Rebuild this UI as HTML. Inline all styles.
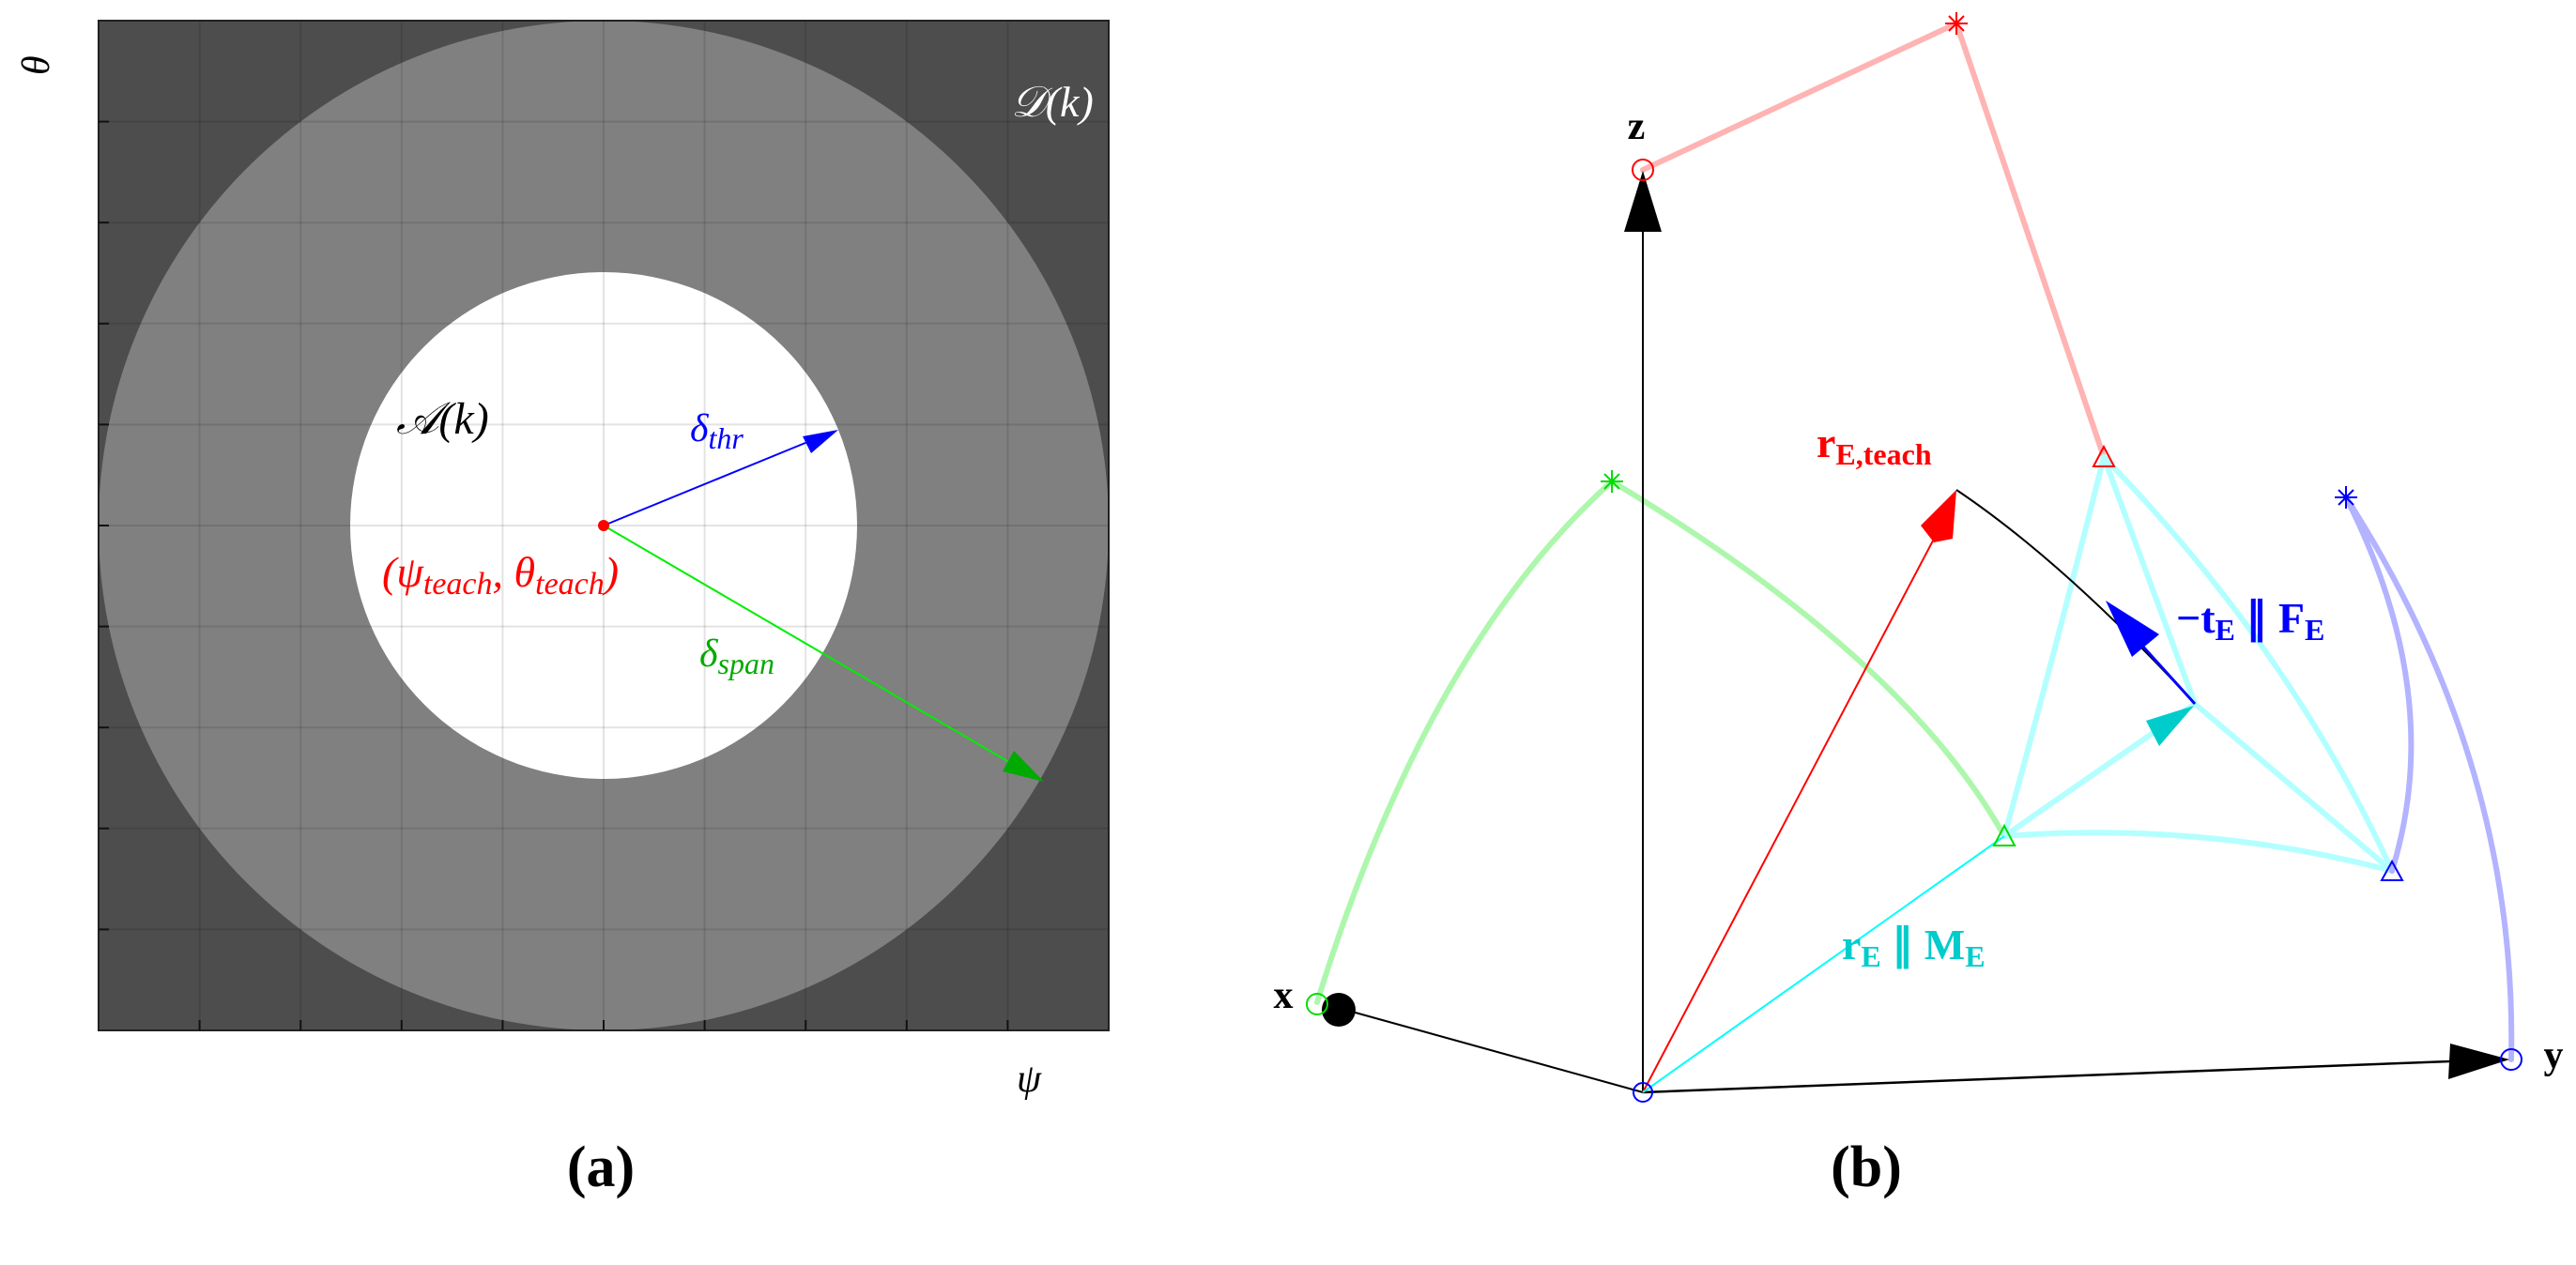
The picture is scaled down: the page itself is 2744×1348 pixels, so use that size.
<!DOCTYPE html>
<html><head><meta charset="utf-8"><style>
html,body{margin:0;padding:0;background:#fff;}
svg{display:block;}
text{font-family:"Liberation Serif",serif;}
</style></head><body>
<svg width="2744" height="1348" viewBox="0 0 2744 1348" xmlns="http://www.w3.org/2000/svg">
<defs><clipPath id="pc"><rect x="105" y="22" width="1076" height="1076"/></clipPath></defs>
<!-- panel a -->
<rect x="105" y="22" width="1076" height="1076" fill="#4d4d4d"/>
<g clip-path="url(#pc)">
<circle cx="643" cy="560" r="538" fill="#808080"/>
<circle cx="643" cy="560" r="270" fill="#ffffff"/>
<g stroke="#000" stroke-opacity="0.11" stroke-width="2">
<line x1="212.6" y1="22" x2="212.6" y2="1098"/><line x1="320.2" y1="22" x2="320.2" y2="1098"/>
<line x1="427.8" y1="22" x2="427.8" y2="1098"/><line x1="535.4" y1="22" x2="535.4" y2="1098"/>
<line x1="643" y1="22" x2="643" y2="1098"/><line x1="750.6" y1="22" x2="750.6" y2="1098"/>
<line x1="858.2" y1="22" x2="858.2" y2="1098"/><line x1="965.8" y1="22" x2="965.8" y2="1098"/>
<line x1="1073.4" y1="22" x2="1073.4" y2="1098"/>
<line y1="129.6" x1="105" y2="129.6" x2="1181"/><line y1="237.2" x1="105" y2="237.2" x2="1181"/>
<line y1="344.8" x1="105" y2="344.8" x2="1181"/><line y1="452.4" x1="105" y2="452.4" x2="1181"/>
<line y1="560" x1="105" y2="560" x2="1181"/><line y1="667.6" x1="105" y2="667.6" x2="1181"/>
<line y1="775.2" x1="105" y2="775.2" x2="1181"/><line y1="882.8" x1="105" y2="882.8" x2="1181"/>
<line y1="990.4" x1="105" y2="990.4" x2="1181"/>
</g>
</g>
<rect x="105" y="22" width="1076" height="1076" fill="none" stroke="#222" stroke-width="2"/>
<g stroke="#111" stroke-width="2">
<line x1="212.6" y1="1098" x2="212.6" y2="1087"/><line x1="320.2" y1="1098" x2="320.2" y2="1087"/><line x1="427.8" y1="1098" x2="427.8" y2="1087"/><line x1="535.4" y1="1098" x2="535.4" y2="1087"/><line x1="643" y1="1098" x2="643" y2="1087"/><line x1="750.6" y1="1098" x2="750.6" y2="1087"/><line x1="858.2" y1="1098" x2="858.2" y2="1087"/><line x1="965.8" y1="1098" x2="965.8" y2="1087"/><line x1="1073.4" y1="1098" x2="1073.4" y2="1087"/>
<line x1="105" y1="129.6" x2="116" y2="129.6"/><line x1="105" y1="237.2" x2="116" y2="237.2"/><line x1="105" y1="344.8" x2="116" y2="344.8"/><line x1="105" y1="452.4" x2="116" y2="452.4"/><line x1="105" y1="560" x2="116" y2="560"/><line x1="105" y1="667.6" x2="116" y2="667.6"/><line x1="105" y1="775.2" x2="116" y2="775.2"/><line x1="105" y1="882.8" x2="116" y2="882.8"/><line x1="105" y1="990.4" x2="116" y2="990.4"/>
</g>
<line x1="643" y1="560" x2="870" y2="467" stroke="#0000ff" stroke-width="2"/>
<polygon points="893,458 855,465 864,483" fill="#0000ff"/>
<line x1="643" y1="560" x2="1085" y2="818" stroke="#00ee00" stroke-width="2"/>
<polygon points="1112,833 1068,822 1080,800" fill="#00aa00"/>
<circle cx="643" cy="560" r="6" fill="#ff0000"/>
<text x="1077" y="124" fill="#fff" font-size="46" font-style="italic">𝒟(k)</text>
<text x="422" y="462" fill="#000" font-size="48" font-style="italic">𝒜(k)</text>
<text x="735" y="470" fill="#0000ff" font-size="42" font-style="italic">δ<tspan font-size="32" dy="8">thr</tspan></text>
<text x="745" y="710" fill="#00aa00" font-size="42" font-style="italic">δ<tspan font-size="32" dy="8">span</tspan></text>
<text x="407" y="625" fill="#ff0000" font-size="46" font-style="italic">(ψ<tspan font-size="34" dy="8">teach</tspan><tspan dy="-8">, θ</tspan><tspan font-size="34" dy="8">teach</tspan><tspan dy="-8">)</tspan></text>
<text x="0" y="0" fill="#000" font-size="42" font-style="italic" transform="translate(52,80) rotate(-90)">θ</text>
<text x="1083" y="1163" fill="#000" font-size="42" font-style="italic">ψ</text>
<text x="640" y="1264" fill="#000" font-size="62" font-weight="bold" text-anchor="middle">(a)</text>
<!-- panel b -->
<g fill="none" stroke-linecap="round">
<path d="M1403,1068 Q1520,690 1717,513" stroke="#adf7ad" stroke-width="6"/>
<path d="M1717,513 Q2028,700 2135,891" stroke="#adf7ad" stroke-width="6"/>
<path d="M1750,181 L2084,25 L2241,487" stroke="#ffb3b3" stroke-width="6"/>
<path d="M2241,487 Q2185,710 2135,891" stroke="#b3ffff" stroke-width="6"/>
<path d="M2241,487 Q2440,692 2548,928" stroke="#b3ffff" stroke-width="6"/>
<path d="M2135,891 Q2348,875 2548,928" stroke="#b3ffff" stroke-width="6"/>
<path d="M2241,487 L2338,750 L2548,928 M2135,891 L2338,750" stroke="#b3ffff" stroke-width="6"/>
<path d="M2499,530 Q2606,741 2548,928" stroke="#b3b3ff" stroke-width="6"/>
<path d="M2499,530 Q2682,814 2675,1129" stroke="#b3b3ff" stroke-width="6"/>
</g>
<line x1="1750" y1="1164" x2="1750" y2="240" stroke="#000" stroke-width="2"/>
<polygon points="1750,182 1730,247 1770,247" fill="#000"/>
<line x1="1750" y1="1164" x2="1440" y2="1078" stroke="#000" stroke-width="2"/>
<circle cx="1426" cy="1076" r="18" fill="#000"/>
<line x1="1750" y1="1164" x2="2610" y2="1131" stroke="#000" stroke-width="2.5"/>
<polygon points="2673,1129 2610,1112 2608,1150" fill="#000"/>
<line x1="1750" y1="1164" x2="2078" y2="540" stroke="#ff0000" stroke-width="2"/>
<polygon points="2084,522 2046,560 2060,578 2080,574" fill="#ff0000"/>
<line x1="1750" y1="1164" x2="2135" y2="891" stroke="#00ffff" stroke-width="2"/>
<path d="M2084,522 Q2200,600 2338,750" fill="none" stroke="#000" stroke-width="2"/>
<line x1="2338" y1="750" x2="2282" y2="688" stroke="#0000ff" stroke-width="3"/>
<polygon points="2243,640 2300,676 2271,700" fill="#0000ff"/>
<polygon points="2337,752 2286,768 2300,795" fill="#00cccc"/>
<g fill="none" stroke-width="2">
<circle cx="1750" cy="181" r="11" stroke="#ff0000"/>
<circle cx="1403" cy="1070" r="11" stroke="#00dd00"/>
<circle cx="2675" cy="1129" r="11" stroke="#0000ff"/>
<circle cx="1750" cy="1164" r="10" stroke="#0000ff"/>
<polygon points="2241,476 2230,497 2252,497" stroke="#ff0000"/>
<polygon points="2135,880 2124,901 2146,901" stroke="#00dd00"/>
<polygon points="2548,918 2537,938 2559,938" stroke="#0000ff"/>
</g>
<g stroke-width="2">
<path d="M2084,13 v24 M2072,25 h24 M2076,17 l16,16 M2092,17 l-16,16" stroke="#ff0000"/>
<path d="M1717,501 v24 M1705,513 h24 M1709,505 l16,16 M1725,505 l-16,16" stroke="#00dd00"/>
<path d="M2499,518 v24 M2487,530 h24 M2491,522 l16,16 M2507,522 l-16,16" stroke="#0000ff"/>
</g>
<text x="1743" y="148" fill="#000" font-size="42" font-weight="bold" text-anchor="middle">z</text>
<text x="1367" y="1074" fill="#000" font-size="42" font-weight="bold" text-anchor="middle">x</text>
<text x="2720" y="1138" fill="#000" font-size="42" font-weight="bold" text-anchor="middle">y</text>
<text x="1935" y="487" fill="#ff0000" font-size="46" font-weight="bold">r<tspan font-size="32" dy="8">E,teach</tspan></text>
<text x="2318" y="674" fill="#0000ff" font-size="46" font-weight="bold">−t<tspan font-size="32" dy="8">E</tspan><tspan dy="-8"> ∥ F</tspan><tspan font-size="32" dy="8">E</tspan></text>
<text x="1962" y="1022" fill="#00cccc" font-size="46" font-weight="bold">r<tspan font-size="32" dy="8">E</tspan><tspan dy="-8"> ∥ M</tspan><tspan font-size="32" dy="8">E</tspan></text>
<text x="1988" y="1264" fill="#000" font-size="62" font-weight="bold" text-anchor="middle">(b)</text>
</svg>
</body></html>
